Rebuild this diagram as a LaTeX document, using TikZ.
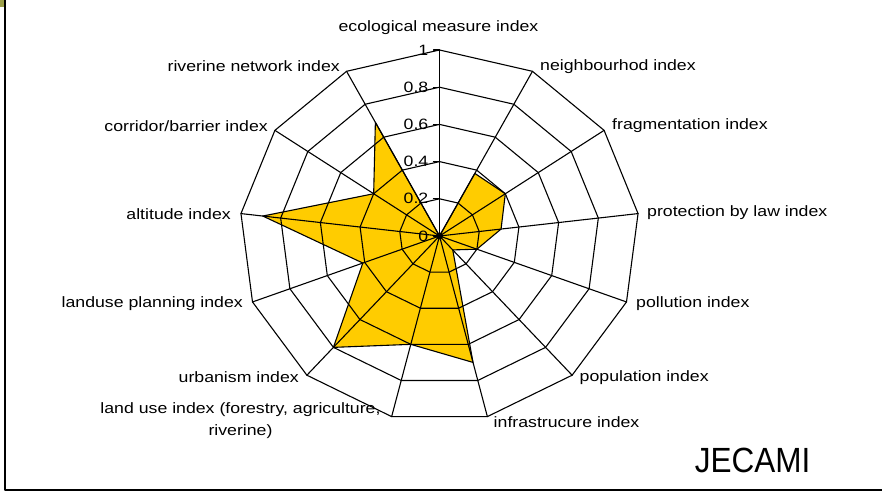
\documentclass[tikz,border=0pt]{standalone}
\usepackage{fontspec}
\setmainfont{Liberation Sans}
\usetikzlibrary{calc}
\definecolor{radarfill}{RGB}{255,204,0}
\definecolor{cornermark}{RGB}{157,160,74}
\tikzset{
  axislabel/.style={font=\fontsize{15}{22}\selectfont, inner sep=0pt, xscale=1.18},
  gridline/.style={line width=1.1pt},
}
\begin{document}
\begin{tikzpicture}[x=1pt, y=1pt, line join=round, line cap=round]
\useasboundingbox (0,0) rectangle (882,498);
\path (439.5,262) coordinate (O);
% outer ends of the 13 axes, clockwise from the top
\foreach \i in {0,...,12}
  \path (O) ++({90-\i*360/13}:200 and 186) coordinate (a\i);
% values of the series
\foreach \i/\v in {0/0,1/0.38,2/0.40,3/0.31,4/0.20,5/0.10,6/0.70,
  7/0.60,8/0.80,9/0.41,10/0.89,11/0.40,12/0.69}
  \path ($(O)!\v!(a\i)$) coordinate (d\i);
\fill[radarfill] (d0) \foreach \i in {1,...,12}{ -- (d\i)} -- cycle;
% rings and spokes
\foreach \k in {1,...,5}
  \draw[gridline] ($(O)!{\k/5}!(a0)$) \foreach \i in {1,...,12}{ -- ($(O)!{\k/5}!(a\i)$)} -- cycle;
\foreach \i in {0,...,12}
  \draw[gridline] (O) -- (a\i);
\draw[gridline] (d0) \foreach \i in {1,...,12}{ -- (d\i)} -- cycle;
\fill (O) circle (3.5);
% value axis
\foreach \k/\t in {0/0,1/0.2,2/0.4,3/0.6,4/0.8,5/1}{
  \path ($(O)!{\k/5}!(a0)$) coordinate (t\k);
  \draw[gridline] (t\k) -- ++(-6,0);
  \node[axislabel, anchor=east] (v\k) at ([xshift=-11]t\k) {\t};
}
% axis names
\node[axislabel] (eco) at (438.5,470.5) {ecological measure index};
\node[axislabel, anchor=west] (neigh) at (540,431.3) {neighbourhod index};
\node[axislabel, anchor=west] (frag) at (612,372.3) {fragmentation index};
\node[axislabel, anchor=west] (prot) at (647,285) {protection by law index};
\node[axislabel, anchor=west] (poll) at (636,194) {pollution index};
\node[axislabel, anchor=west] (popu) at (579.5,120) {population index};
\node[axislabel, anchor=west] (infra) at (493.5,76) {infrastrucure index};
\node[axislabel, anchor=north, align=center] (landuse) at (240.5,95.5)
  {land use index (forestry, agriculture,\\riverine)};
\node[axislabel, anchor=east] (urban) at (299,121) {urbanism index};
\node[axislabel, anchor=east] (plan) at (243,194) {landuse planning index};
\node[axislabel, anchor=east] (alt) at (231,284) {altitude index};
\node[axislabel, anchor=east] (corr) at (268,372.3) {corridor/barrier index};
\node[axislabel, anchor=east] (river) at (340,432.3) {riverine network index};
% frame and name
\draw[line width=2pt, line cap=butt] (5,498) -- (5,8) -- (882,8);
\fill[cornermark] (0,491) rectangle (3.5,498);
\node[font=\fontsize{35}{35}\selectfont, xscale=0.9] (brand) at (752.5,37.5) {JECAMI};
\end{tikzpicture}
\end{document}
